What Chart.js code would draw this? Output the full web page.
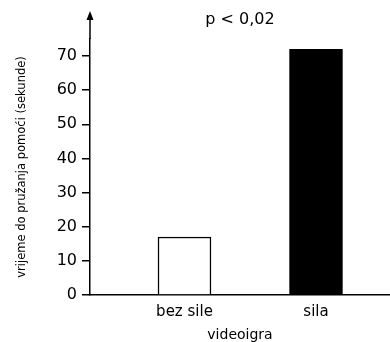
<!DOCTYPE html>
<html>
<head>
<meta charset="utf-8">
<script src="https://cdn.jsdelivr.net/npm/chart.js@4"></script>
<style>
  html, body { margin: 0; padding: 0; background: #fff; }
  #wrap { width: 390px; height: 342px; position: relative; }
</style>
</head>
<body>
<div id="wrap"><canvas id="chart"></canvas></div>
<script>
const categories = ['bez sile', 'sila'];
const values = [17, 72];
const yTicks = [0, 10, 20, 30, 40, 50, 60, 70];
const xTitle = 'videoigra';
const yTitle = 'vrijeme do pružanja pomoći (sekunde)';
const note = 'p < 0,02';

Chart.defaults.font.family = 'DejaVu Sans';
Chart.defaults.color = '#000000';

// arrow on top of the y axis + the p-value note
const extras = {
  id: 'extras',
  afterDraw(chart) {
    const { ctx, chartArea } = chart;
    const x = chart.scales.y.right;
    ctx.save();
    ctx.strokeStyle = '#000';
    ctx.fillStyle = '#000';
    ctx.lineWidth = 1.5;
    ctx.beginPath();
    ctx.moveTo(x, chartArea.top);
    ctx.lineTo(x, 18);
    ctx.stroke();
    ctx.beginPath();
    ctx.moveTo(x, 11);
    ctx.lineTo(x - 3.5, 20);
    ctx.lineTo(x + 3.5, 20);
    ctx.closePath();
    ctx.fill();
    ctx.font = '16px "DejaVu Sans"';
    ctx.textAlign = 'center';
    ctx.textBaseline = 'middle';
    ctx.fillText(note, (chartArea.left + chartArea.right) / 2, 20);
    ctx.restore();
  }
};

new Chart(document.getElementById('chart'), {
  type: 'bar',
  plugins: [extras],
  data: {
    datasets: [{
      data: categories.map((c, i) => ({ x: i, y: values[i] })),
      backgroundColor: ['#ffffff', '#000000'],
      borderColor: '#000000',
      borderWidth: 1.5,
      borderSkipped: 'bottom',
      barThickness: 53,
    }],
  },
  options: {
    responsive: true,
    maintainAspectRatio: false,
    animation: false,
    layout: { padding: { top: 39, left: 0, right: 0, bottom: 0 } },
    plugins: {
      legend: { display: false },
      tooltip: { enabled: false },
    },
    scales: {
      x: {
        type: 'linear',
        offset: false,
        min: -0.7186,
        max: 1.5627,
        afterBuildTicks: (scale) => { scale.ticks = categories.map((c, i) => ({ value: i })); },
        afterFit: (scale) => { scale.height = 47; },
        ticks: {
          padding: 0,
          font: { size: 15 },
          callback: (v) => categories[v],
        },
        grid: { display: false },
        border: { color: '#000000', width: 1.5 },
        title: {
          display: true,
          text: xTitle,
          font: { size: 14, lineHeight: 1 },
          padding: { top: 0, bottom: 0 },
        },
      },
      y: {
        min: 0,
        max: 75,
        afterBuildTicks: (scale) => { scale.ticks = yTicks.map(v => ({ value: v })); },
        afterFit: (scale) => { scale.width = 90; },
        ticks: {
          padding: 5,
          font: { size: 16 },
        },
        grid: {
          drawOnChartArea: false,
          drawTicks: true,
          tickLength: 8,
          color: '#000000',
          lineWidth: 1.5,
        },
        border: { color: '#000000', width: 1.5 },
        title: {
          display: true,
          text: yTitle,
          font: { size: 11.5 },
          padding: { top: 15, bottom: 0 },
        },
      },
    },
  },
});
</script>
</body>
</html>
